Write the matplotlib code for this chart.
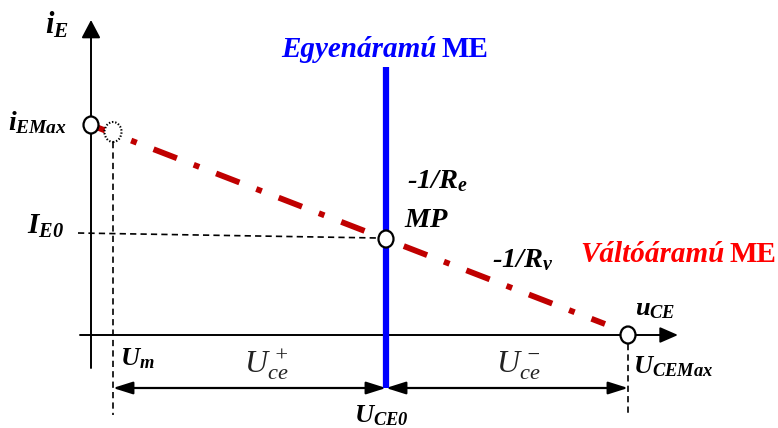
import matplotlib
matplotlib.use("Agg")
import matplotlib.pyplot as plt
from matplotlib.patches import Ellipse, FancyArrowPatch

plt.rcParams['mathtext.fontset'] = 'custom'
plt.rcParams['mathtext.it'] = 'Liberation Serif:italic:bold'
plt.rcParams['mathtext.bf'] = 'Liberation Serif:italic:bold'
plt.rcParams['mathtext.rm'] = 'Liberation Serif:italic'
plt.rcParams['mathtext.default'] = 'it'
plt.rcParams['lines.scale_dashes'] = False

# ---- schematic values (in drawing units, origin at axis crossing) ----
u_m = 22          # U_m
u_ce0 = 295       # U_CE0 (DC working line)
u_cemax = 537     # U_CEMax
i_emax = 210      # i_EMax
i_e0 = 96         # I_E0
ac_line_x = [0, 514]      # visible extent of the AC load line
ac_line_y = [210, 11]
axis_x_end = 587
axis_y_end = 315
bottom_extent = -80
arrow_level = -53

fig = plt.figure(figsize=(7.78, 4.28), dpi=100)
ax = fig.add_axes([0, 0, 1, 1])
ax.set_xlim(-91, 687)
ax.set_ylim(-93, 335)
ax.axis('off')

serif = dict(family='Liberation Serif', weight='bold', style='italic')

def arrow(p0, p1, style, hl, hw, lw=1.4):
    a = FancyArrowPatch(p0, p1, arrowstyle=f'{style},head_length={hl},head_width={hw}',
                        mutation_scale=20, color='black', lw=lw, shrinkA=0, shrinkB=0,
                        zorder=3)
    ax.add_patch(a)

# axes
arrow((0, -33), (0, axis_y_end), '-|>', 0.55, 0.29)
arrow((-11, 0), (axis_x_end, 0), '-|>', 0.55, 0.24)

# DC working line (blue)
ax.plot([u_ce0, u_ce0], [arrow_level, 268], color='#0000FF', lw=4.5, zorder=4,
        solid_capstyle='butt')

# AC working line (red dash-dot)
ax.plot(ac_line_x, ac_line_y, color='#C00000', lw=4.2,
        dashes=(18, 13, 4.3, 13), zorder=4, dash_capstyle='butt')

# dashed helper lines
dkw = dict(color='black', lw=1.2, dashes=(4.5, 3), zorder=2)
ax.plot([u_m, u_m], [i_emax - 17, bottom_extent], **dkw)
ax.plot([u_cemax, u_cemax], [-9, bottom_extent], **dkw)
ax.plot([-13, u_ce0 - 8], [i_e0 + 6, i_e0 + 1], **dkw)

# dimension arrows
arrow((u_m, arrow_level), (u_ce0, arrow_level), '<|-|>', 0.6, 0.19, lw=1.6)
arrow((u_ce0, arrow_level), (u_cemax, arrow_level), '<|-|>', 0.6, 0.19, lw=1.6)

# circles
def circ(x, y):
    e = Ellipse((x, y), 15, 17, facecolor='white', edgecolor='black', lw=1.6,
                zorder=6)
    ax.add_patch(e)

circ(0, i_emax)
circ(u_ce0, i_e0)
circ(u_cemax, 0)
ax.add_patch(Ellipse((u_m, i_emax - 7), 17, 20, facecolor='white', edgecolor='black',
                     lw=1.5, linestyle=(0, (1, 1.3)), zorder=5))

# labels
def lab(x, y, s, size=18, color='black', **kw):
    ax.text(x, y, s, fontsize=size, color=color, ha='left', va='baseline', **serif, **kw)

lab(-46, 302, r'$i_E$', size=22)
lab(-83, 205, r'$i_{EMax}$', size=20)
lab(-64, 101, r'$I_{E\mathbf{0}}$', size=21)
lab(29, -30, r'$U_m$', size=19)
lab(263, -87, r'$U_{CE\mathbf{0}}$', size=19)
lab(542, -38, r'$U_{CEMax}$', size=19)
lab(544, 20, r'$u_{CE}$', size=19)
lab(316, 147, r'-1/$R_e$', size=20.5)
lab(313, 108, r'$MP$', size=20.5)
lab(401, 68, r'-1/$R_v$', size=20.5)
ax.text(153, -38, r'$\mathrm{U}_{\mathrm{ce}}^{\,+}$', fontsize=23, color='#222222',
        ha='left', va='baseline')
ax.text(405, -38, r'$\mathrm{U}_{\mathrm{ce}}^{\,-}$', fontsize=23, color='#222222',
        ha='left', va='baseline')
ax.text(190, 278, 'Egyenáramú', fontsize=21, color='#0000FF', ha='left', va='baseline',
        **serif)
ax.text(351, 278, 'ME', fontsize=21, color='#0000FF', ha='left', va='baseline',
        family='Liberation Serif', weight='bold')
ax.text(489, 73, 'Váltóáramú', fontsize=21, color='#FF0000', ha='left', va='baseline',
        **serif)
ax.text(639, 73, 'ME', fontsize=21, color='#FF0000', ha='left', va='baseline',
        family='Liberation Serif', weight='bold')

fig.savefig('out.png', dpi=100)
